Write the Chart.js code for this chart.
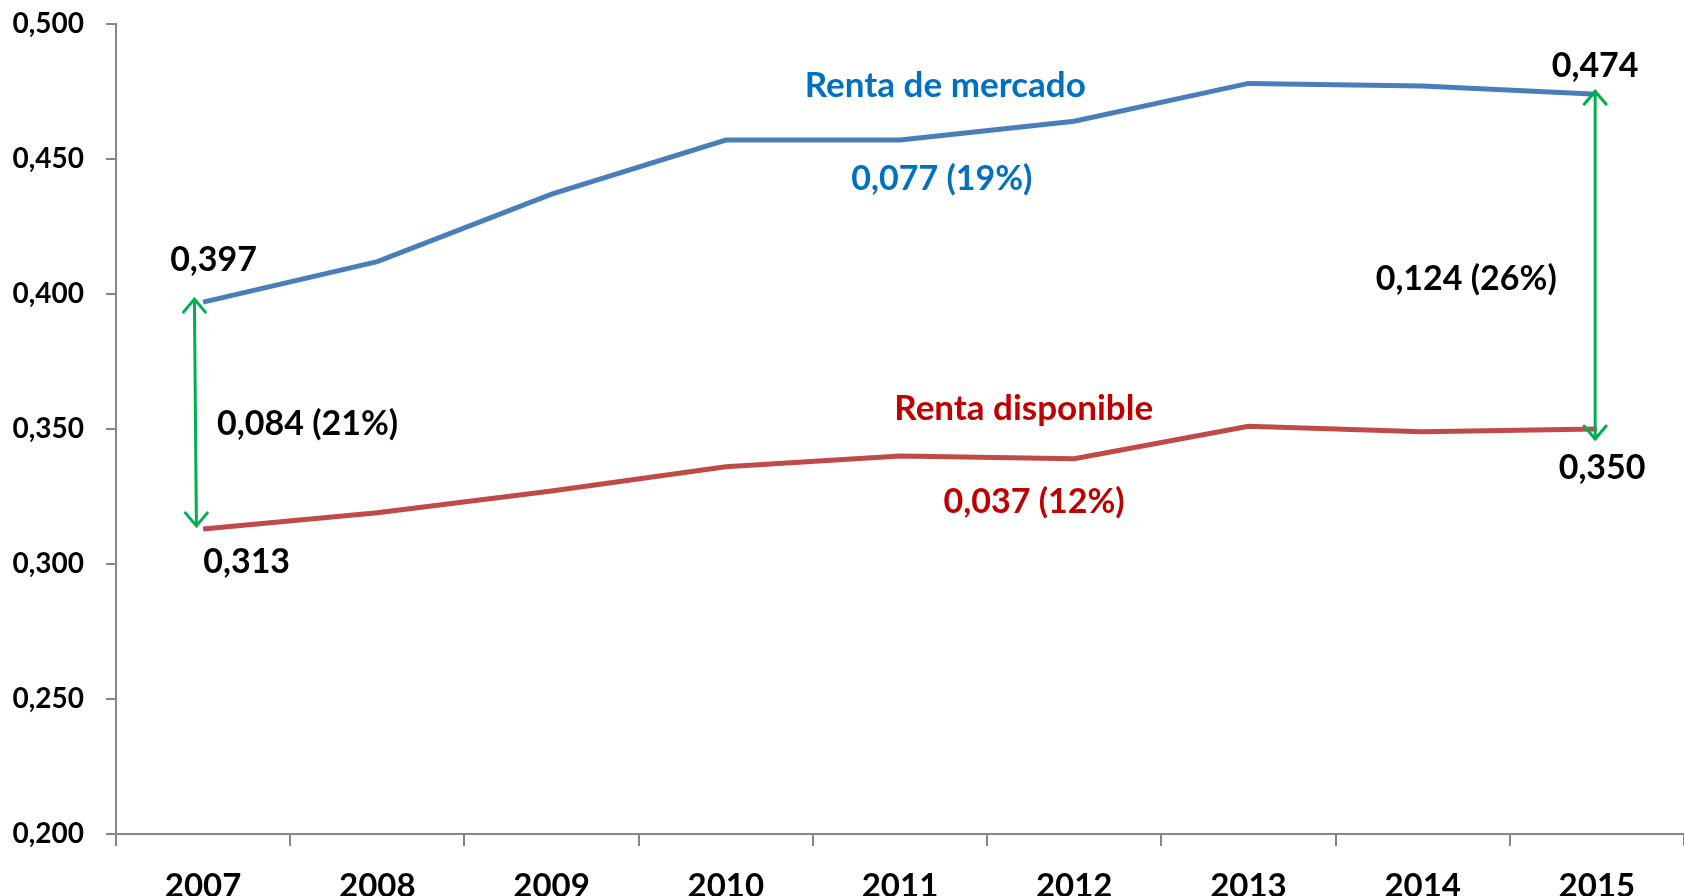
<!DOCTYPE html>
<html>
<head>
<meta charset="utf-8">
<script src="https://cdn.jsdelivr.net/npm/chart.js@4"></script>
<style>
  html, body { margin: 0; padding: 0; background: #fff; }
  #wrap { width: 1684px; height: 896px; }
</style>
</head>
<body>
<div id="wrap"><canvas id="chart" width="1684" height="896"></canvas></div>
<script>
// --- Data ---
const years = ['2007', '2008', '2009', '2010', '2011', '2012', '2013', '2014', '2015'];
const rentaMercado = [0.397, 0.412, 0.437, 0.457, 0.457, 0.464, 0.478, 0.477, 0.474];
const rentaDisponible = [0.313, 0.319, 0.327, 0.336, 0.340, 0.339, 0.351, 0.349, 0.350];
const yTicks = [0.200, 0.250, 0.300, 0.350, 0.400, 0.450, 0.500];

// text notes placed in data space (category index, value)
const noteTexts = ['Renta de mercado', '0,077 (19%)', '0,397', '0,084 (21%)', '0,313',
                   'Renta disponible', '0,037 (12%)', '0,124 (26%)', '0,474', '0,350'];
const noteX = [4.26, 4.24, 0.06, 0.60, 0.25, 4.71, 4.77, 7.25, 7.99, 8.03];
const noteY = [0.4772, 0.4424, 0.4124, 0.3520, 0.3009, 0.3576, 0.3228, 0.4057, 0.4846, 0.3354];
const noteColors = ['#0070C0', '#0070C0', '#000', '#000', '#000',
                    '#C00000', '#C00000', '#000', '#000', '#000'];

// double arrows between the two series (first and last year)
const arrowX = [-0.05, 7.99];
const arrowTop = [rentaMercado[0], rentaMercado[8]];
const arrowBottom = [rentaDisponible[0], rentaDisponible[8]];

const fmt = (v) => v.toFixed(3).replace('.', ',');
const FONT = 'Lato, "Open Sans", sans-serif';

function drawHead(ctx, x, y, dir) {
    // open chevron head, dir = -1 points up, 1 points down
    ctx.beginPath();
    ctx.moveTo(x - 11, y - dir * 13);
    ctx.lineTo(x, y);
    ctx.lineTo(x + 11, y - dir * 13);
    ctx.stroke();
}

const notesPlugin = {
    id: 'notes',
    afterDatasetsDraw(chart) {
        const { ctx, scales: { x, y } } = chart;
        ctx.save();
        // arrows
        ctx.strokeStyle = '#00B050';
        ctx.lineWidth = 3;
        ctx.lineCap = 'round';
        ctx.lineJoin = 'round';
        for (let i = 0; i < arrowX.length; i++) {
            const px = x.getPixelForValue(arrowX[i]);
            const y1 = y.getPixelForValue(arrowTop[i]) - 3;
            const y2 = y.getPixelForValue(arrowBottom[i]) + (i === 0 ? -3 : 10);
            ctx.beginPath();
            ctx.moveTo(px, y1);
            ctx.lineTo(px + (i === 0 ? 2 : 0), y2);
            ctx.stroke();
            drawHead(ctx, px, y1, -1);
            drawHead(ctx, px + (i === 0 ? 2 : 0), y2, 1);
        }
        // labels
        ctx.font = 'bold 34px ' + FONT;
        ctx.textAlign = 'center';
        ctx.textBaseline = 'middle';
        for (let i = 0; i < noteTexts.length; i++) {
            ctx.fillStyle = noteColors[i];
            ctx.font = 'bold ' + (i === 0 || i === 5 ? 35 : 34) + 'px ' + FONT;
            ctx.fillText(noteTexts[i], x.getPixelForValue(noteX[i]), y.getPixelForValue(noteY[i]));
        }
        ctx.restore();
    }
};

new Chart(document.getElementById('chart'), {
    type: 'line',
    data: {
        labels: years,
        datasets: [
            {
                label: 'Renta de mercado',
                data: rentaMercado,
                borderColor: '#4A7EBB',
                borderWidth: 5,
                pointRadius: 0,
                tension: 0
            },
            {
                label: 'Renta disponible',
                data: rentaDisponible,
                borderColor: '#BE4B48',
                borderWidth: 5,
                pointRadius: 0,
                tension: 0
            }
        ]
    },
    options: {
        responsive: false,
        animation: false,
        layout: { padding: { top: 24, right: 0, left: 0, bottom: 0 } },
        plugins: {
            legend: { display: false },
            tooltip: { enabled: false }
        },
        scales: {
            x: {
                offset: true,
                grid: { offset: true, drawOnChartArea: false, drawTicks: true, tickLength: 12, color: '#868686', lineWidth: 2 },
                border: { color: '#868686', width: 2 },
                ticks: {
                    color: '#000',
                    font: { family: FONT, size: 33, weight: 'bold' },
                    padding: 21,
                    maxRotation: 0
                },
                afterFit(scale) { scale.height = 62; scale.paddingLeft = 0; scale.paddingRight = 0; }
            },
            y: {
                min: 0.2,
                max: 0.5,
                afterBuildTicks(scale) { scale.ticks = yTicks.map(v => ({ value: v })); },
                grid: { drawOnChartArea: false, drawTicks: true, tickLength: 10, color: '#868686', lineWidth: 2 },
                border: { color: '#868686', width: 2 },
                ticks: {
                    color: '#000',
                    font: { family: FONT, size: 28, weight: 'bold' },
                    padding: 22,
                    callback: (v) => fmt(v)
                },
                afterFit(scale) { scale.width = 116; scale.paddingTop = 0; scale.paddingBottom = 0; }
            }
        }
    },
    plugins: [notesPlugin]
});
</script>
</body>
</html>
